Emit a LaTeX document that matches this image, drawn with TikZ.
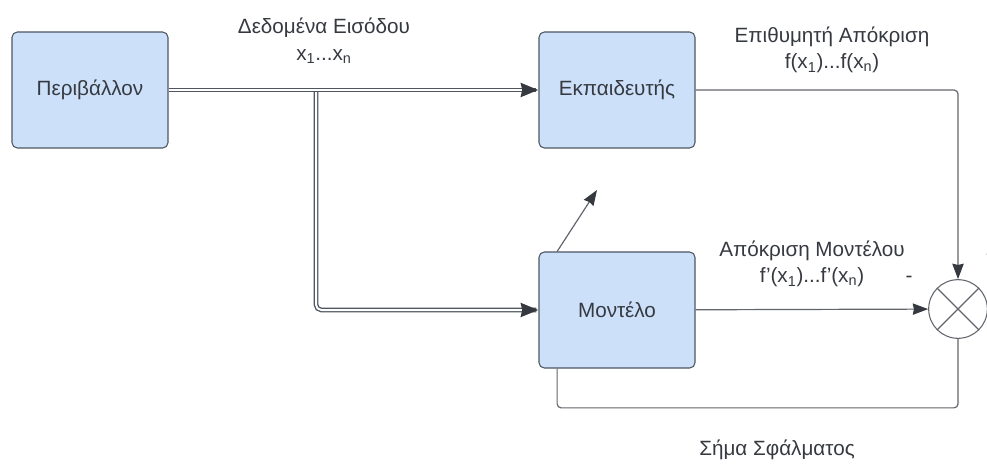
\documentclass[tikz,border=0pt]{standalone}
\usepackage{fontspec}
\setmainfont{Liberation Sans}
\usetikzlibrary{arrows.meta,decorations.markings}
\definecolor{boxfill}{HTML}{CCE0FA}
\definecolor{boxline}{HTML}{4F5661}
\definecolor{wire}{HTML}{62666C}
\definecolor{ink}{HTML}{363A40}
\tikzset{block/.style = {draw=boxline, fill=boxfill, rounded corners=4pt, minimum width=117pt, minimum height=87pt, text=ink, line width=0.8pt}}
\tikzset{junction/.style = {draw=wire, circle, minimum size=44pt, inner sep=0, line width=0.8pt}}
\tikzset{lbl/.style = {text=ink, align=center}}
% double bus; its head is put on by markings so it is drawn solid
\tikzset{bus/.style = {draw=boxline, double=white, double distance=1.5pt, line width=1pt, rounded corners=4pt, shorten >=1.5pt,
    decoration={markings, mark=at position 1 with {\arrow[ink]{Stealth[length=13pt,width=10pt,inset=0.8pt]}}},
    postaction={decorate}}}
\tikzset{sig/.style = {draw=wire, line width=0.9pt, rounded corners=3pt}}
\tikzset{tip/.style = {-{Stealth[length=11.5pt,width=8.5pt,inset=0.8pt,color=ink]}}}

\begin{document}
\begin{tikzpicture}[x=0.75pt, y=-0.75pt,
    font={\fontsize{15.5}{20}\selectfont}]
    \useasboundingbox (0,0) rectangle (987,466);

    % Blocks
    \node[block] (env) at (90,90) {Περιβάλλον};
    \node[block] (teacher) at (617,90) {Εκπαιδευτής};
    \node[block] (model) at (617,310) {Μοντέλο};

    % Summing junction
    \node[junction] (sum) at (958,309) {};
    \draw[sig] (sum.north west) -- (sum.south east)
               (sum.north east) -- (sum.south west);

    % Input data: branch first, so the main bus sits on top
    \coordinate (split) at (316,90);
    \draw[bus] (split) |- (model.west);
    \draw[bus] (env) -- (teacher);

    % Desired and model responses
    \draw[sig,tip] (teacher) -| (sum);
    \draw[sig,tip] (model) -- (sum);

    % Error back to the model
    \coordinate (fb) at ([xshift=14pt]model.south west);
    \draw[sig] (sum.south) -- ++(0,69) -| (fb);

    % Adjustment arrow
    \coordinate (adj) at (597,190);
    \draw[sig,tip] ([xshift=14pt]model.north west) -- (adj);

    % Labels
    \node[lbl] (inlbl) at (324,41) {Δεδομένα Εισόδου\\x\textsubscript{1}...x\textsubscript{n}};
    \node[lbl] (wantlbl) at (832,50) {Επιθυμητή Απόκριση\\f(x\textsubscript{1})...f(x\textsubscript{n})};
    \node[lbl] (outlbl) at (812,264) {Απόκριση Μοντέλου\\f'(x\textsubscript{1})...f'(x\textsubscript{n})};
    \node[lbl] (errlbl) at (777,450) {Σήμα Σφάλματος};
    \node[lbl] (minus) at (909,279) {-};
    \node[lbl] (plus) at (992,256) {+};

\end{tikzpicture}
\end{document}
